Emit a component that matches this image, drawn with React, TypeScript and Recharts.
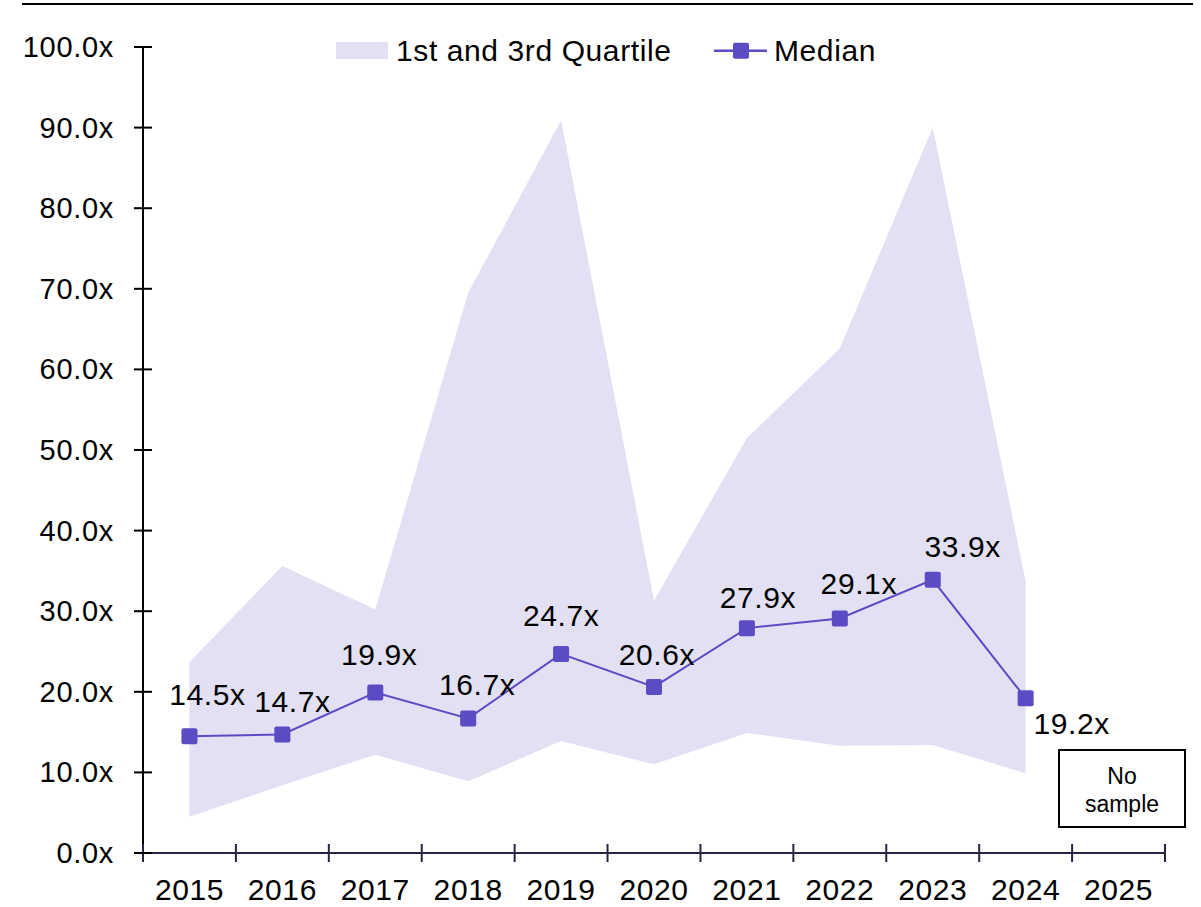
import React from "react";
import { ComposedChart, Area, Line, XAxis, YAxis, LabelList } from "recharts";

const YEARS = ["2015", "2016", "2017", "2018", "2019", "2020", "2021", "2022", "2023", "2024", "2025"];
const MEDIAN = [14.5, 14.7, 19.9, 16.7, 24.7, 20.6, 27.9, 29.1, 33.9, 19.2, null];
const Q1 = [4.5, 8.4, 12.2, 8.9, 13.9, 11.0, 14.9, 13.3, 13.4, 9.9, null];
const Q3 = [23.7, 35.6, 30.2, 69.5, 90.9, 31.3, 51.5, 62.6, 90.0, 33.7, null];
const Y_TICKS = [0, 10, 20, 30, 40, 50, 60, 70, 80, 90, 100];

// label nudges relative to each marker (dx, dy to baseline)
const LABEL_DX = [18, 10, 4, 9, 0, 3, 11, 19, 30, 46];
const LABEL_DY = [-31, -23, -28, -23, -28, -22, -20, -24, -23, 36];

const W = 1201;
const H = 907;
const MARGIN = { top: 47, right: 36, bottom: 0, left: 0 };
const YAXIS_W = 143;
const BAND = (W - MARGIN.left - MARGIN.right - YAXIS_W) / YEARS.length;

const PURPLE = "#5b4bc4";
const FILL = "#e2e0f2";
const FONT = "'Liberation Sans', Arial, sans-serif";

const data = YEARS.map((year, i) => ({
  year,
  median: MEDIAN[i],
  band: Q1[i] == null || Q3[i] == null ? null : [Q1[i], Q3[i]],
}));

const fmt = (v: number) => `${v.toFixed(1)}x`;

function YTick({ x, y, payload }: any) {
  return (
    <g>
      <line x1={x - 9} x2={x + 9} y1={y} y2={y} stroke="#000" strokeWidth={2} />
      <text x={x - 29} y={y + 10} textAnchor="end" fontSize={29} letterSpacing={0.7} fill="#000" fontFamily={FONT}>
        {fmt(payload.value)}
      </text>
    </g>
  );
}

function XTick({ x, y, payload, index }: any) {
  const half = BAND / 2;
  return (
    <g>
      <line x1={x - half} x2={x - half} y1={y - 9} y2={y + 9} stroke="#262640" strokeWidth={2} />
      {index === YEARS.length - 1 && (
        <line x1={x + half} x2={x + half} y1={y - 9} y2={y + 9} stroke="#262640" strokeWidth={2} />
      )}
      <text x={x} y={y + 47} textAnchor="middle" fontSize={30} letterSpacing={0.6} fill="#000" fontFamily={FONT}>
        {payload.value}
      </text>
    </g>
  );
}

function SquareDot({ cx, cy }: any) {
  if (cx == null || cy == null) return null;
  return <rect x={cx - 8} y={cy - 8} width={16} height={16} rx={2} fill={PURPLE} />;
}

function MedianLabel({ x, y, value, index }: any) {
  if (value == null) return null;
  return (
    <text
      x={x + (LABEL_DX[index] ?? 0)}
      y={y + (LABEL_DY[index] ?? -25)}
      textAnchor="middle"
      fontSize={30}
      letterSpacing={0.6}
      fill="#000"
      fontFamily={FONT}
    >
      {fmt(value)}
    </text>
  );
}

export default function App() {
  return (
    <div style={{ position: "absolute", left: 0, top: 0, width: W, height: H, background: "#fff", fontFamily: FONT }}>
      <ComposedChart width={W} height={H} data={data} margin={MARGIN}>
        <XAxis
          dataKey="year"
          interval={0}
          padding={{ left: BAND / 2, right: BAND / 2 }}
          height={54}
          tickSize={0}
          tickMargin={0}
          tickLine={false}
          axisLine={{ stroke: "#262640", strokeWidth: 2 }}
          tick={<XTick />}
        />
        <YAxis
          domain={[0, 100]}
          ticks={Y_TICKS}
          interval={0}
          width={YAXIS_W}
          tickSize={0}
          tickMargin={0}
          tickLine={false}
          axisLine={{ stroke: "#000", strokeWidth: 2 }}
          tick={<YTick />}
        />
        <Area
          dataKey="band"
          type="linear"
          stroke="none"
          fill={FILL}
          fillOpacity={1}
          isAnimationActive={false}
        />
        <Line
          dataKey="median"
          type="linear"
          stroke={PURPLE}
          strokeWidth={2}
          dot={<SquareDot />}
          activeDot={false}
          isAnimationActive={false}
        >
          <LabelList dataKey="median" content={<MedianLabel />} />
        </Line>
      </ComposedChart>

      <svg
        width={W}
        height={H}
        style={{ position: "absolute", left: 0, top: 0, pointerEvents: "none" }}
        fontFamily={FONT}
      >
        <rect x={22} y={3} width={1171} height={2} fill="#000" />

        <rect x={336} y={42} width={52} height={17} fill={FILL} />
        <text x={396} y={61} fontSize={30} letterSpacing={0.6} fill="#000">
          1st and 3rd Quartile
        </text>
        <line x1={714} x2={767} y1={50.7} y2={50.7} stroke={PURPLE} strokeWidth={2.5} />
        <rect x={733} y={42.7} width={16} height={16} rx={2} fill={PURPLE} />
        <text x={774} y={61} fontSize={30} letterSpacing={0.6} fill="#000">
          Median
        </text>

        <rect x={1059} y={750} width={126} height={77} fill="#fff" stroke="#000" strokeWidth={2} />
        <text x={1122} y={784} fontSize={23} textAnchor="middle" fill="#000">
          No
        </text>
        <text x={1122} y={811.5} fontSize={23} textAnchor="middle" fill="#000">
          sample
        </text>
      </svg>
    </div>
  );
}
